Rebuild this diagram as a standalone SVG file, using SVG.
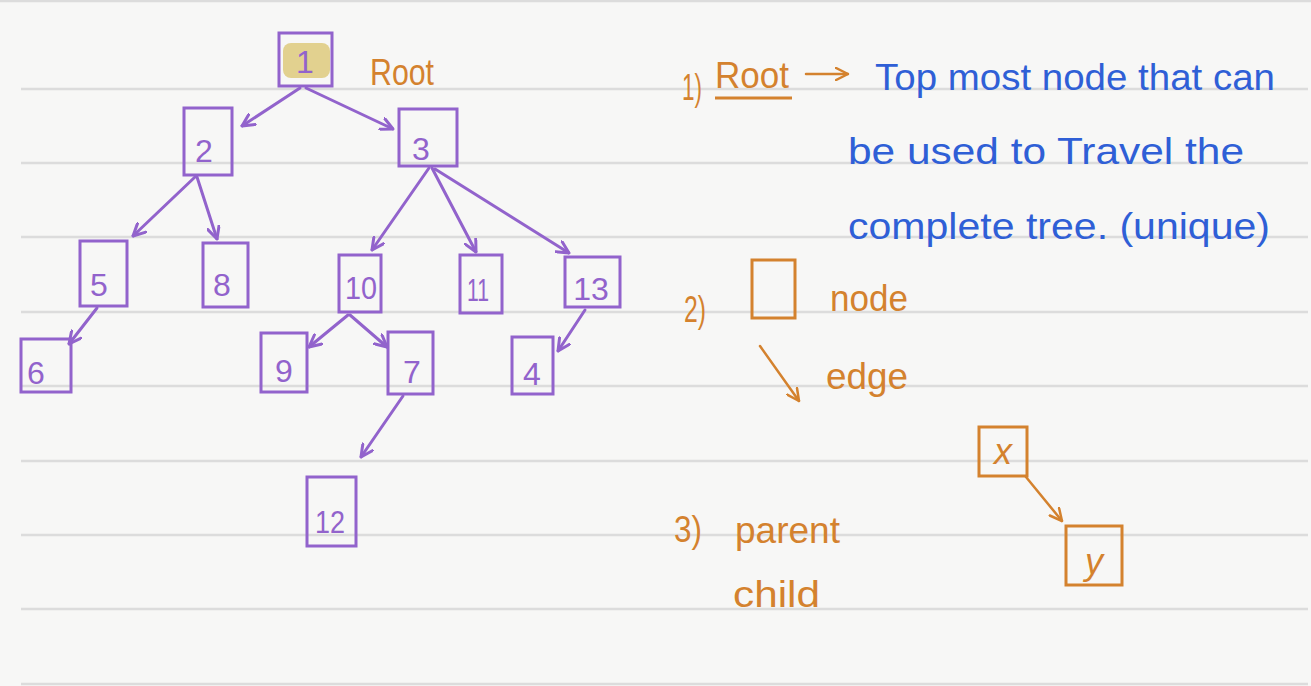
<svg xmlns="http://www.w3.org/2000/svg" width="1311" height="686" viewBox="0 0 1311 686">
<defs>
<style>
.bg{fill:#f7f7f6}
.rule{stroke:#dcdcdc;stroke-width:2.5}
.pn{fill:none;stroke:#9263cc;stroke-width:3}
.on{fill:none;stroke:#d4822e;stroke-width:3}
.pe{fill:none;stroke:#9263cc;stroke-width:3;stroke-linecap:round;marker-end:url(#pa)}
.oe{fill:none;stroke:#d4822e;stroke-width:2.5;stroke-linecap:round;marker-end:url(#oa)}
.pt{fill:#9263cc;font-family:"Liberation Sans",sans-serif;font-size:32px;text-anchor:middle}
.ot{fill:#d4822e;font-family:"Liberation Sans",sans-serif;font-size:36px}
.bt{fill:#2f5fd6;font-family:"Liberation Sans",sans-serif;font-size:36px}
</style>
<marker id="pa" viewBox="0 0 14 14" refX="13" refY="7" markerWidth="14" markerHeight="14" markerUnits="userSpaceOnUse" orient="auto">
<path d="M1,1 L13,7 L1,13" fill="none" stroke="#9263cc" stroke-width="3" stroke-linecap="round" stroke-linejoin="round"/>
</marker>
<marker id="oa" viewBox="0 0 14 14" refX="13" refY="7" markerWidth="14" markerHeight="14" markerUnits="userSpaceOnUse" orient="auto">
<path d="M1,1 L13,7 L1,13" fill="none" stroke="#d4822e" stroke-width="2.5" stroke-linecap="round" stroke-linejoin="round"/>
</marker>
</defs>
<rect class="bg" x="0" y="0" width="1311" height="686"/>
<g id="rules">
<line class="rule" x1="0" y1="1" x2="1311" y2="1"/>
<line class="rule" x1="21" y1="89" x2="1308" y2="89"/>
<line class="rule" x1="21" y1="163" x2="1308" y2="163"/>
<line class="rule" x1="21" y1="237" x2="1308" y2="237"/>
<line class="rule" x1="21" y1="312" x2="1308" y2="312"/>
<line class="rule" x1="21" y1="386" x2="1308" y2="386"/>
<line class="rule" x1="21" y1="461" x2="1308" y2="461"/>
<line class="rule" x1="21" y1="535" x2="1308" y2="535"/>
<line class="rule" x1="21" y1="609" x2="1308" y2="609"/>
<line class="rule" x1="21" y1="684" x2="1308" y2="684"/>
</g>
<g id="connectors">
<line class="pe" x1="300" y1="88" x2="242" y2="126"/>
<line class="pe" x1="306" y1="88" x2="393" y2="129"/>
<line class="pe" x1="195" y1="177" x2="133" y2="236"/>
<line class="pe" x1="197" y1="177" x2="217" y2="239"/>
<line class="pe" x1="429" y1="168" x2="372" y2="250"/>
<line class="pe" x1="432" y1="168" x2="476" y2="252"/>
<line class="pe" x1="435" y1="169" x2="569" y2="253"/>
<line class="pe" x1="97" y1="308" x2="69" y2="344"/>
<line class="pe" x1="348" y1="315" x2="309" y2="347"/>
<line class="pe" x1="350" y1="315" x2="387" y2="347"/>
<line class="pe" x1="585" y1="310" x2="558" y2="351"/>
<line class="pe" x1="403" y1="396" x2="361" y2="457"/>
<line class="oe" x1="806" y1="74" x2="848" y2="74"/>
<line class="oe" x1="760" y1="346" x2="799" y2="401"/>
<line class="oe" x1="1026" y1="477" x2="1062" y2="521"/>
</g>
<g id="node-1">
<rect x="283" y="43" width="47" height="35" rx="8" fill="#e2d18f"/>
<rect class="pn" x="279" y="33" width="53" height="53"/>
<text class="pt" x="305" y="73">1</text>
</g>
<g id="node-2"><rect class="pn" x="184" y="108" width="48" height="67"/><text class="pt" x="204" y="162">2</text></g>
<g id="node-3"><rect class="pn" x="399" y="109" width="58" height="57"/><text class="pt" x="421" y="160">3</text></g>
<g id="node-5"><rect class="pn" x="80" y="241" width="47" height="65"/><text class="pt" x="99" y="296">5</text></g>
<g id="node-8"><rect class="pn" x="203" y="243" width="45" height="64"/><text class="pt" x="222" y="296">8</text></g>
<g id="node-10"><rect class="pn" x="339" y="255" width="42" height="57"/><text class="pt" x="361" y="299" textLength="32" lengthAdjust="spacingAndGlyphs">10</text></g>
<g id="node-11"><rect class="pn" x="460" y="255" width="42" height="58"/><text class="pt" x="478" y="301" textLength="22" lengthAdjust="spacingAndGlyphs">11</text></g>
<g id="node-13"><rect class="pn" x="565" y="257" width="55" height="50"/><text class="pt" x="591" y="300">13</text></g>
<g id="node-6"><rect class="pn" x="21" y="339" width="50" height="53"/><text class="pt" x="36" y="384">6</text></g>
<g id="node-9"><rect class="pn" x="261" y="333" width="46" height="59"/><text class="pt" x="284" y="382">9</text></g>
<g id="node-7"><rect class="pn" x="388" y="332" width="45" height="62"/><text class="pt" x="412" y="383">7</text></g>
<g id="node-4"><rect class="pn" x="512" y="337" width="41" height="57"/><text class="pt" x="532" y="385">4</text></g>
<g id="node-12"><rect class="pn" x="307" y="477" width="49" height="69"/><text class="pt" x="330" y="533" textLength="30" lengthAdjust="spacingAndGlyphs">12</text></g>
<g id="label-root"><text class="ot" x="370" y="85" font-size="40" textLength="64" lengthAdjust="spacingAndGlyphs">Root</text></g>
<g id="def-1">
<text class="ot" x="682" y="100" font-size="32" textLength="20" lengthAdjust="spacingAndGlyphs">1)</text>
<text class="ot" x="715" y="88" textLength="74" lengthAdjust="spacingAndGlyphs">Root</text>
<line x1="715" y1="98" x2="792" y2="98" stroke="#d4822e" stroke-width="3"/>
<text class="bt" x="875" y="90" textLength="400" lengthAdjust="spacingAndGlyphs">Top most node that can</text>
<text class="bt" x="848" y="164" textLength="396" lengthAdjust="spacingAndGlyphs">be used to Travel the</text>
<text class="bt" x="848" y="239" textLength="422" lengthAdjust="spacingAndGlyphs">complete tree. (unique)</text>
</g>
<g id="def-2">
<text class="ot" x="684" y="322" font-size="30" textLength="22" lengthAdjust="spacingAndGlyphs">2)</text>
<rect class="on" x="752" y="260" width="43" height="58"/>
<text class="ot" x="830" y="311" textLength="78" lengthAdjust="spacingAndGlyphs">node</text>
<text class="ot" x="826" y="389" textLength="82" lengthAdjust="spacingAndGlyphs">edge</text>
</g>
<g id="def-3">
<text class="ot" x="674" y="542" font-size="32" textLength="28" lengthAdjust="spacingAndGlyphs">3)</text>
<text class="ot" x="735" y="543" textLength="105" lengthAdjust="spacingAndGlyphs">parent</text>
<text class="ot" x="733" y="607" textLength="87" lengthAdjust="spacingAndGlyphs">child</text>
</g>
<g id="node-x"><rect class="on" x="979" y="427" width="48" height="49"/><text class="ot" x="1003" y="464" text-anchor="middle" font-style="italic" font-size="30">x</text></g>
<g id="node-y"><rect class="on" x="1066" y="526" width="56" height="59"/><text class="ot" x="1094" y="574" text-anchor="middle" font-style="italic" font-size="34">y</text></g>
</svg>
